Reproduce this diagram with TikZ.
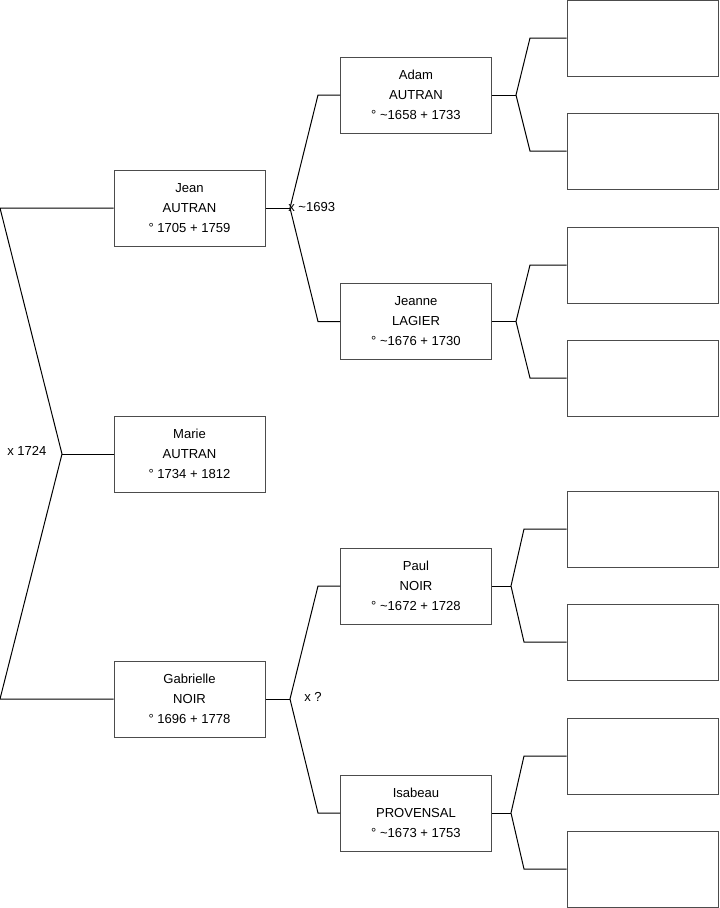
\documentclass[tikz,border=0pt]{standalone}
\usepackage{fontspec}
\setmainfont{Liberation Sans}
\begin{document}
\begin{tikzpicture}[x=0.75pt,y=-0.75pt,
  person/.style={draw=black!70,line width=0.75pt,minimum width=113.25pt,minimum height=57pt,inner sep=0pt,align=center,font=\fontsize{9.8}{15}\selectfont},
  link/.style={draw=black,line width=0.75pt},
  lbl/.style={font=\fontsize{9.8}{11}\selectfont,inner sep=0pt}]
\useasboundingbox (0,0) rectangle (719,908);
% generation 1
\node[person] (jean) at (189.5,208) {Jean\\AUTRAN\\° 1705 + 1759};
\node[person] (marie) at (189.5,454) {Marie\\AUTRAN\\° 1734 + 1812};
\node[person] (gab) at (189.5,699) {Gabrielle\\NOIR\\° 1696 + 1778};
% generation 2
\node[person] (adam) at (416,95) {Adam\\AUTRAN\\° \textasciitilde1658 + 1733};
\node[person] (jeanne) at (416,321.5) {Jeanne\\LAGIER\\° \textasciitilde1676 + 1730};
\node[person] (paul) at (416,586) {Paul\\NOIR\\° \textasciitilde1672 + 1728};
\node[person] (isa) at (416,813) {Isabeau\\PROVENSAL\\° \textasciitilde1673 + 1753};
% generation 3
\node[person] (r1) at (642.5,38) {};
\node[person] (r2) at (642.5,151) {};
\node[person] (r3) at (642.5,265) {};
\node[person] (r4) at (642.5,378) {};
\node[person] (r5) at (642.5,529) {};
\node[person] (r6) at (642.5,642) {};
\node[person] (r7) at (642.5,756) {};
\node[person] (r8) at (642.5,869) {};
% coordinates
\coordinate (m0) at (62,454);
\coordinate (mt) at (0,208);
\coordinate (mb) at (0,699);
\coordinate (j0) at (290,208);
\coordinate (jt) at (318,95);
\coordinate (jb) at (318,321.5);
\coordinate (g0) at (290,699);
\coordinate (gt) at (318,586);
\coordinate (gb) at (318,813);
\coordinate (a0) at (516,95);
\coordinate (at) at (530,38);
\coordinate (ab) at (530,151);
\coordinate (e0) at (516,321.5);
\coordinate (et) at (530,265);
\coordinate (eb) at (530,378);
\coordinate (p0) at (511,586);
\coordinate (pt) at (524,529);
\coordinate (pb) at (524,642);
\coordinate (i0) at (511,813);
\coordinate (it) at (524,756);
\coordinate (ib) at (524,869);
% links
\draw[link] (marie.west) -- (m0);
\draw[link] (jean.west) -- (mt) -- (m0) -- (mb) -- (gab.west);
\draw[link] (jean.east) -- (j0);
\draw[link] (adam.west) -- (jt) -- (j0) -- (jb) -- (jeanne.west);
\draw[link] (gab.east) -- (g0);
\draw[link] (paul.west) -- (gt) -- (g0) -- (gb) -- (isa.west);
\draw[link] (adam.east) -- (a0);
\draw[link] (r1.west) -- (at) -- (a0) -- (ab) -- (r2.west);
\draw[link] (jeanne.east) -- (e0);
\draw[link] (r3.west) -- (et) -- (e0) -- (eb) -- (r4.west);
\draw[link] (paul.east) -- (p0);
\draw[link] (r5.west) -- (pt) -- (p0) -- (pb) -- (r6.west);
\draw[link] (isa.east) -- (i0);
\draw[link] (r7.west) -- (it) -- (i0) -- (ib) -- (r8.west);
% labels
\node[lbl,anchor=west] (l1) at (7,451) {x 1724};
\node[lbl,anchor=west] (l2) at (288,207) {x \textasciitilde1693};
\node[lbl,anchor=west] (l3) at (304,697) {x ?};
\end{tikzpicture}
\end{document}
